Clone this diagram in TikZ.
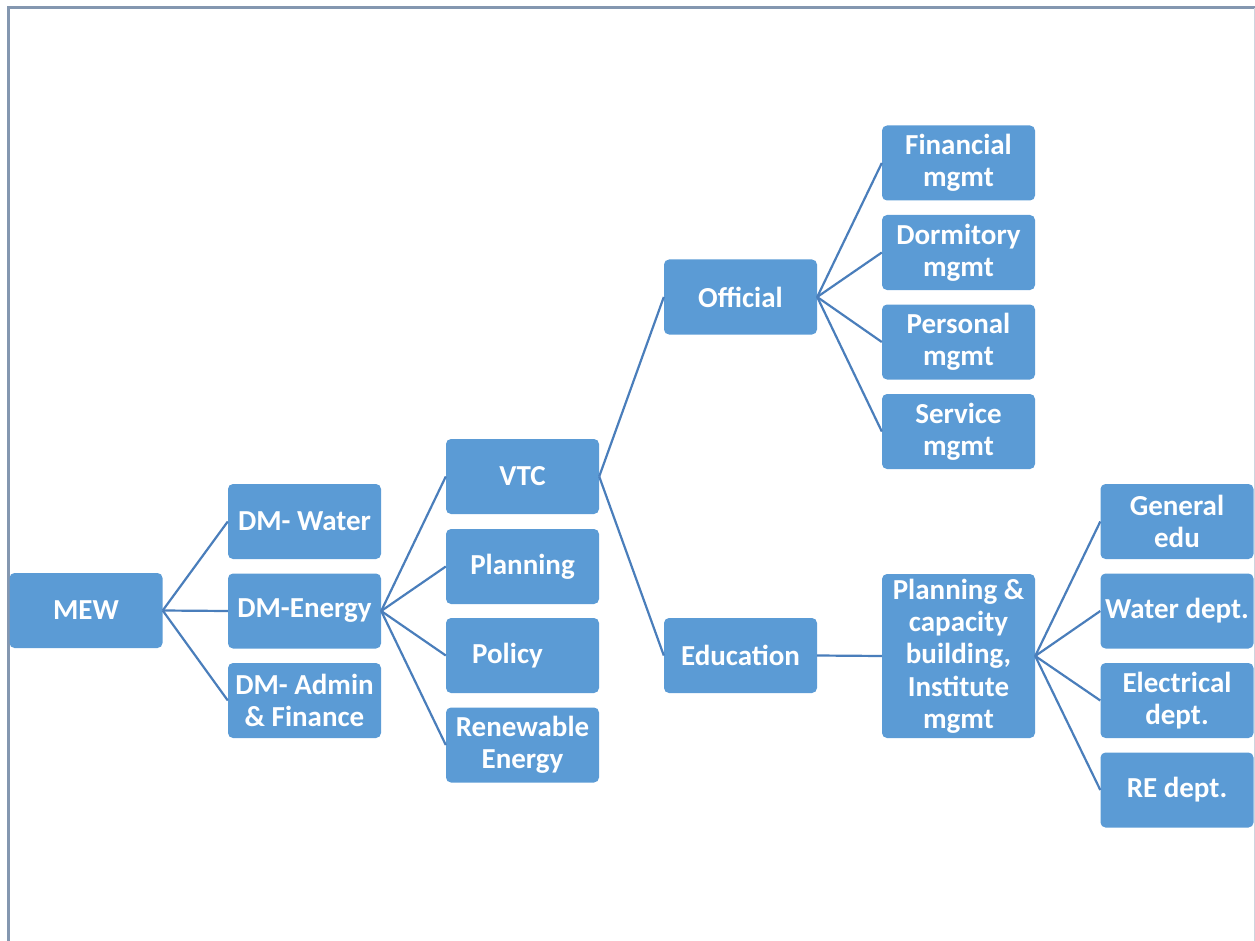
\documentclass[tikz,border=0pt]{standalone}
\usepackage{fontspec}
\setmainfont{Carlito}
\definecolor{boxfill}{HTML}{5B9BD5}
\definecolor{linkcol}{HTML}{4A7EBB}
\definecolor{framecol}{HTML}{8497B0}
\tikzset{
  unit/.style={draw=none, fill=boxfill, rounded corners=5pt, minimum width=153pt,
    minimum height=75pt, text=white, font=\bfseries\fontsize{29}{32.3}\selectfont,
    align=center, inner sep=1pt},
  link/.style={draw=linkcol, line width=2.2pt}
}
\begin{document}
\begin{tikzpicture}[x=1pt, y=-1pt]
\useasboundingbox (0,0) rectangle (1255,941);
% page frame
\draw[framecol, line width=3pt] (8,941) -- (8,8) -- (1255,8);
\draw[framecol!40, line width=1pt] (1254.5,8) -- (1254.5,941);

% level 0
\node[unit] (mew) at (86,610.5) {MEW};
% level 1
\node[unit] (dmw) at (304.5,521.5) {DM- Water};
\node[unit] (dme) at (304.5,611) {DM-Energy};
\node[unit] (dma) at (304.5,700.5) {DM- Admin\\\& Finance};
% level 2
\node[unit] (vtc) at (522.5,476.5) {VTC};
\node[unit] (pln) at (522.5,566.5) {Planning};
\node[unit] (pol) at (522.5,655.5) {\makebox[0pt]{\hspace*{-30pt}Policy}};
\node[unit] (ren) at (522.5,745) {Renewable\\Energy};
% level 3
\node[unit] (off) at (740.5,297) {Official};
\node[unit] (edu) at (740.5,655.5) {Education};
% level 4
\node[unit] (fin) at (958.5,163) {Financial\\mgmt};
\node[unit] (dor) at (958.5,252.5) {Dormitory\\mgmt};
\node[unit] (per) at (958.5,342) {Personal\\mgmt};
\node[unit] (ser) at (958.5,431.5) {Service\\mgmt};
\node[unit, minimum height=164pt] (pcb) at (958.5,656) {Planning \&\\capacity\\building,\\Institute\\mgmt};
% level 5
\node[unit] (gen) at (1177,521.5) {General\\edu};
\node[unit] (wat) at (1177,611) {Water dept.};
\node[unit] (ele) at (1177,700.5) {Electrical\\dept.};
\node[unit] (red) at (1177,790) {RE dept.};

% connectors
\foreach \c in {dmw,dme,dma} \draw[link] (mew.east) -- (\c.west);
\foreach \c in {vtc,pln,pol,ren} \draw[link] (dme.east) -- (\c.west);
\foreach \c in {off,edu} \draw[link] (vtc.east) -- (\c.west);
\foreach \c in {fin,dor,per,ser} \draw[link] (off.east) -- (\c.west);
\draw[link] (edu.east) -- (pcb.west);
\foreach \c in {gen,wat,ele,red} \draw[link] (pcb.east) -- (\c.west);
\end{tikzpicture}
\end{document}
